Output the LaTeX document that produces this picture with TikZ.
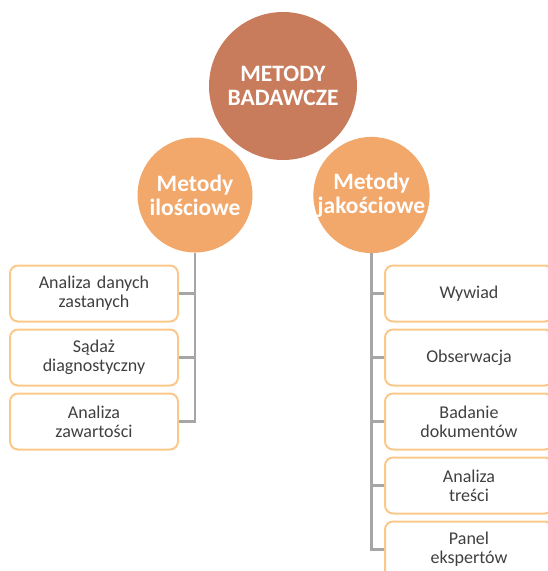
\documentclass[tikz,border=0pt]{standalone}
\usepackage{fontspec}
\setmainfont{Carlito}
\usepackage{tikz}
\usetikzlibrary{shapes,positioning,calc}
\usepackage{xcolor}
\definecolor{rootcol}{RGB}{201,124,92}
\definecolor{branchcol}{RGB}{242,167,107}
\definecolor{boxline}{RGB}{250,201,138}
\definecolor{linkcol}{RGB}{166,166,166}
\definecolor{textcol}{RGB}{64,64,64}

\begin{document}
\begin{tikzpicture}[
    x=1pt, y=-1pt,
    root/.style={circle, fill=rootcol, minimum size=148pt, inner sep=0pt, text=white, align=center, font=\fontsize{23.5}{24}\selectfont\bfseries},
    branch/.style={circle, fill=branchcol, minimum size=115pt, inner sep=0pt, text=white, align=center, font=\fontsize{23.5}{24}\selectfont\bfseries},
    item/.style={rectangle, draw=boxline, line width=2pt, fill=white, rounded corners=8pt, minimum width=168pt, minimum height=56pt, text width=160pt, align=center, text=textcol, font=\fontsize{18}{19}\selectfont},
    link/.style={draw=linkcol, line width=2.3pt}
]
\useasboundingbox (0,0) rectangle (548,571);
\clip (0,0) rectangle (548,571);

% Nodes
\node[root] (root) at (283,86) {METODY\\BADAWCZE};
\node[branch] (quant) at (195,195) {Metody\\ilościowe};
\node[branch] (qual) at (371.5,195) {Metody\\jakościowe};

\node[item] (ldata) at (94,293.5) {Analiza danych\\zastanych};
\node[item, below=6pt of ldata] (ljudge) {Sądaż\\diagnostyczny};
\node[item, below=6pt of ljudge] (lcontent) {Analiza\\zawartości};

\node[item] (rint) at (469,293.5) {Wywiad};
\node[item, below=6pt of rint] (robs) {Obserwacja};
\node[item, below=6pt of robs] (rdoc) {Badanie\\dokumentów};
\node[item, below=6pt of rdoc] (rtext) {Analiza\\treści};
\node[item, below=6pt of rtext] (rpanel) {Panel\\ekspertów};

% Arrows
\draw[link] (quant.south) |- (ldata.east);
\draw[link] (quant.south) |- (ljudge.east);
\draw[link] (quant.south) |- (lcontent.east);
\draw[link] (qual.south) |- (rint.west);
\draw[link] (qual.south) |- (robs.west);
\draw[link] (qual.south) |- (rdoc.west);
\draw[link] (qual.south) |- (rtext.west);
\draw[link] (qual.south) |- (rpanel.west);

\end{tikzpicture}
\end{document}
